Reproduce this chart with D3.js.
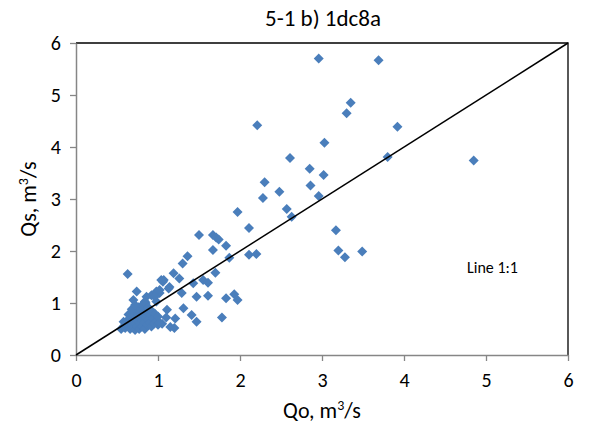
<!DOCTYPE html>
<html>
<head>
<meta charset="utf-8">
<script src="https://cdn.jsdelivr.net/npm/d3@7"></script>
<style>
  body { margin: 0; background: #fff; }
  text { font-family: Carlito, "Open Sans", sans-serif; fill: #000; }
</style>
</head>
<body>
<div id="chart"></div>
<script>
// Observed discharge Qo (m3/s)
const qo = [
  2.96, 3.69, 3.35, 3.30, 3.92, 2.21, 3.03, 2.61, 3.80, 4.85, 2.85, 3.02, 2.30, 2.86, 2.48, 2.28, 2.96,
  1.97, 2.57, 2.63, 2.11, 3.17, 3.20, 3.28, 3.49,
  1.50, 1.67, 1.71, 1.74, 1.83, 1.67, 1.87, 1.36, 1.30, 2.11, 2.20,
  1.19, 1.26, 1.07, 1.13, 1.43, 1.55, 1.61, 1.70,
  1.29, 1.47, 1.61, 1.83, 1.93, 1.97, 1.78, 1.31, 1.11, 1.21, 1.41, 1.47, 1.15, 1.10, 1.05, 1.20,
  0.63, 0.74, 0.70, 1.06, 1.14, 0.92, 1.02, 0.98, 0.84, 0.86, 0.98, 1.02, 1.04, 0.96,
  0.55, 0.58, 0.60, 0.60, 0.62, 0.63, 0.65, 0.65, 0.66, 0.67, 0.68, 0.68, 0.70, 0.70, 0.70,
  0.72, 0.72, 0.73, 0.74, 0.74, 0.75, 0.76, 0.76, 0.77, 0.78, 0.78, 0.79, 0.80, 0.80, 0.81,
  0.82, 0.82, 0.83, 0.84, 0.85, 0.85, 0.86, 0.87, 0.88, 0.88, 0.90, 0.90, 0.92, 0.92, 0.94,
  0.95, 0.96, 0.98, 1.00, 1.00, 1.02, 0.68, 0.72, 0.64, 0.58
];
// Simulated discharge Qs (m3/s)
const qs = [
  5.70, 5.67, 4.85, 4.65, 4.39, 4.42, 4.08, 3.79, 3.81, 3.74, 3.58, 3.46, 3.32, 3.26, 3.14, 3.02, 3.06,
  2.75, 2.81, 2.66, 2.44, 2.40, 2.01, 1.88, 1.99,
  2.31, 2.31, 2.26, 2.22, 2.10, 2.02, 1.87, 1.90, 1.76, 1.93, 1.94,
  1.57, 1.47, 1.44, 1.28, 1.38, 1.44, 1.39, 1.58,
  1.19, 1.12, 1.14, 1.09, 1.17, 1.06, 0.72, 0.90, 0.87, 0.70, 0.77, 0.64, 0.54, 0.72, 0.60, 0.52,
  1.56, 1.22, 1.06, 1.41, 1.31, 1.15, 1.19, 1.03, 1.03, 1.12, 1.22, 1.25, 1.44, 1.12,
  0.50, 0.55, 0.52, 0.62, 0.58, 0.66, 0.55, 0.70, 0.50, 0.62, 0.75, 0.58, 0.52, 0.68, 0.80,
  0.60, 0.48, 0.72, 0.85, 0.55, 0.65, 0.92, 0.78, 0.50, 0.70, 0.60, 0.82, 0.55, 0.95, 0.68,
  0.75, 0.88, 0.62, 0.50, 0.72, 1.00, 0.82, 0.58, 0.68, 0.92, 0.78, 0.62, 0.55, 0.85, 0.70,
  0.60, 0.80, 0.66, 0.58, 0.74, 0.62, 0.88, 0.96, 0.78, 0.64
];
const ticks = [0, 1, 2, 3, 4, 5, 6];
const oneToOne = [[0, 0], [6, 6]];

const width = 591, height = 431;
const margin = { top: 43, right: 23, bottom: 76, left: 76 };

const svg = d3.select('#chart').append('svg')
  .attr('width', width)
  .attr('height', height);

const x = d3.scaleLinear().domain([0, 6]).range([margin.left, width - margin.right]);
const y = d3.scaleLinear().domain([0, 6]).range([height - margin.bottom, margin.top]);

// plot frame (top and right in black)
svg.append('path')
  .attr('d', `M${x(0)},${y(6)}H${x(6)}V${y(0)}`)
  .attr('fill', 'none')
  .attr('stroke', '#000')
  .attr('stroke-width', 1.3);

// axes
const xAxis = svg.append('g')
  .attr('transform', `translate(0,${y(0)})`)
  .call(d3.axisBottom(x).tickValues(ticks).tickFormat(d3.format('d'))
    .tickSize(6).tickSizeOuter(0).tickPadding(12));
const yAxis = svg.append('g')
  .attr('transform', `translate(${x(0)},0)`)
  .call(d3.axisLeft(y).tickValues(ticks).tickFormat(d3.format('d'))
    .tickSize(6).tickSizeOuter(0).tickPadding(9));

[xAxis, yAxis].forEach(ax => {
  ax.select('.domain').attr('stroke', '#868686').attr('stroke-width', 1.5);
  ax.selectAll('.tick line').attr('stroke', '#868686').attr('stroke-width', 1.3);
  ax.selectAll('.tick text').style('font-size', '20px').attr('fill', '#000');
});

// points
const diamond = d3.symbol().type(d3.symbolSquare).size(50);
svg.append('g')
  .selectAll('path')
  .data(qo.map((d, i) => [d, qs[i]]))
  .join('path')
  .attr('d', diamond)
  .attr('transform', d => `translate(${x(d[0])},${y(d[1])}) rotate(45)`)
  .attr('fill', '#4a7ebb');

// 1:1 line
svg.append('line')
  .attr('x1', x(oneToOne[0][0])).attr('y1', y(oneToOne[0][1]))
  .attr('x2', x(oneToOne[1][0])).attr('y2', y(oneToOne[1][1]))
  .attr('stroke', '#000')
  .attr('stroke-width', 1.5);

svg.append('text')
  .attr('x', 467).attr('y', 273)
  .style('font-size', '16px')
  .text('Line 1:1');

// title
svg.append('text')
  .attr('x', 323).attr('y', 26)
  .attr('text-anchor', 'middle')
  .style('font-size', '23px')
  .text('5-1 b) 1dc8a');

// axis titles
const xt = svg.append('text')
  .attr('x', 322).attr('y', 418)
  .attr('text-anchor', 'middle')
  .style('font-size', '22px');
xt.append('tspan').text('Qo, m');
xt.append('tspan').attr('dy', -8).style('font-size', '14px').text('3');
xt.append('tspan').attr('dy', 8).text('/s');

const yt = svg.append('text')
  .attr('transform', `translate(36,${y(3)}) rotate(-90)`)
  .attr('text-anchor', 'middle')
  .style('font-size', '22px');
yt.append('tspan').text('Qs, m');
yt.append('tspan').attr('dy', -8).style('font-size', '14px').text('3');
yt.append('tspan').attr('dy', 8).text('/s');
</script>
</body>
</html>
